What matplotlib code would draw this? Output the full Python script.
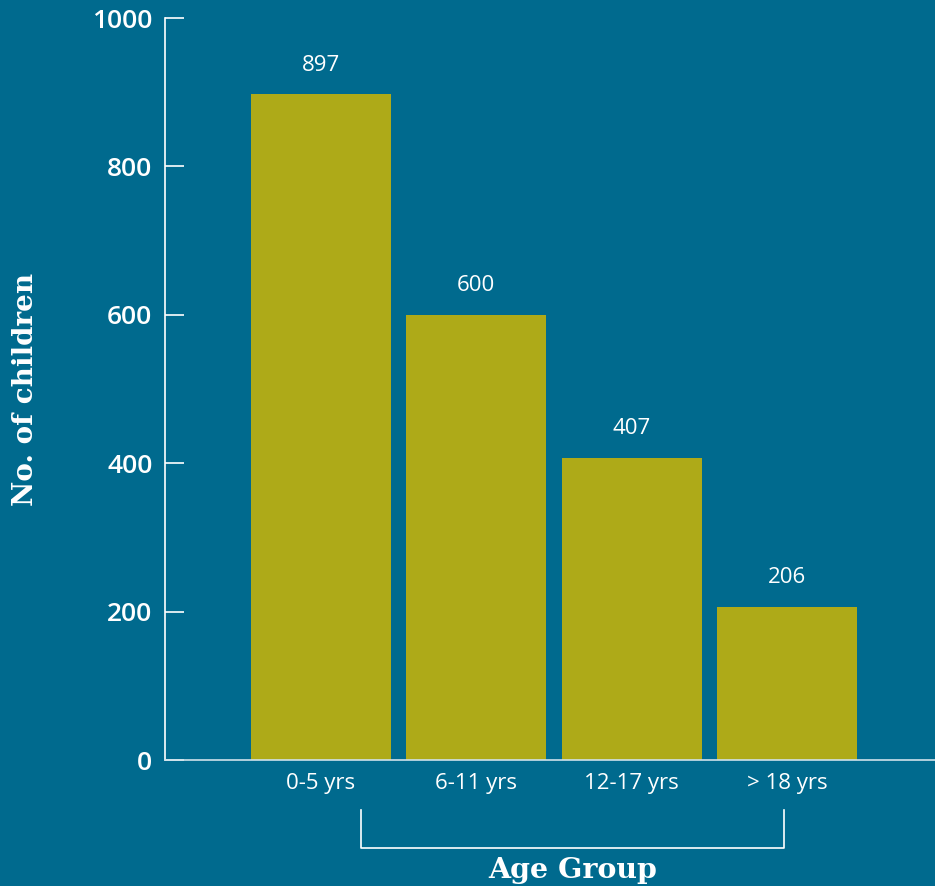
import matplotlib
matplotlib.use("Agg")
import matplotlib.pyplot as plt
import numpy as np

# data
age_groups = ["0-5 yrs", "6-11 yrs", "12-17 yrs", "> 18 yrs"]
children = [897, 600, 407, 206]
y_ticks = [0, 200, 400, 600, 800, 1000]

BG = "#006a8e"
BAR = "#aeaa18"

plt.rcParams["font.family"] = ["Open Sans", "DejaVu Sans"]

fig = plt.figure(figsize=(9.35, 8.86), dpi=100, facecolor=BG)
ax = fig.add_axes([165 / 935, 1 - 760 / 886, 770 / 935, 742 / 886])
ax.set_facecolor(BG)

x = np.arange(len(age_groups))
bars = ax.bar(x, children, width=0.9, color=BAR, zorder=2)

for rect, val in zip(bars, children):
    ax.annotate(str(val), (rect.get_x() + rect.get_width() / 2, rect.get_height()),
                xytext=(0, 21), textcoords="offset points", ha="center", va="center",
                color="white", fontsize=16)

ax.set_xlim(-1.0, 3.95)
ax.set_ylim(0, 1000)
ax.set_yticks(y_ticks)
ax.set_xticks(x)
ax.set_xticklabels(age_groups)

for s in ["top", "right"]:
    ax.spines[s].set_visible(False)
ax.spines["left"].set_color("white")
ax.spines["left"].set_linewidth(1.2)
ax.spines["bottom"].set_color("#cfe2ea")
ax.spines["bottom"].set_linewidth(1.2)

ax.tick_params(axis="y", direction="in", length=14, width=1.2, color="white",
               labelcolor="white", labelsize=19, pad=9)
for lab in ax.get_yticklabels():
    lab.set_fontweight("semibold")
    lab.set_va("center_baseline")
ax.tick_params(axis="x", length=0, labelcolor="white", labelsize=16, pad=9)

ax.set_ylabel("No. of children", family="DejaVu Serif", fontweight="bold",
              fontsize=20, color="white", labelpad=38)

# bracket under the categories with the axis title
trans = ax.get_xaxis_transform()
left, right = x[0] + 0.26, x[-1] - 0.02
ax.plot([left, left, right, right], [-0.067, -0.118, -0.118, -0.067],
        transform=trans, color="white", lw=1.2, clip_on=False)
ax.text((left + right) / 2, -0.149, "Age Group", transform=trans, ha="center", va="center",
        family="DejaVu Serif", fontweight="bold", fontsize=20.5, color="white")

fig.savefig("out.png", dpi=100, facecolor=BG)
